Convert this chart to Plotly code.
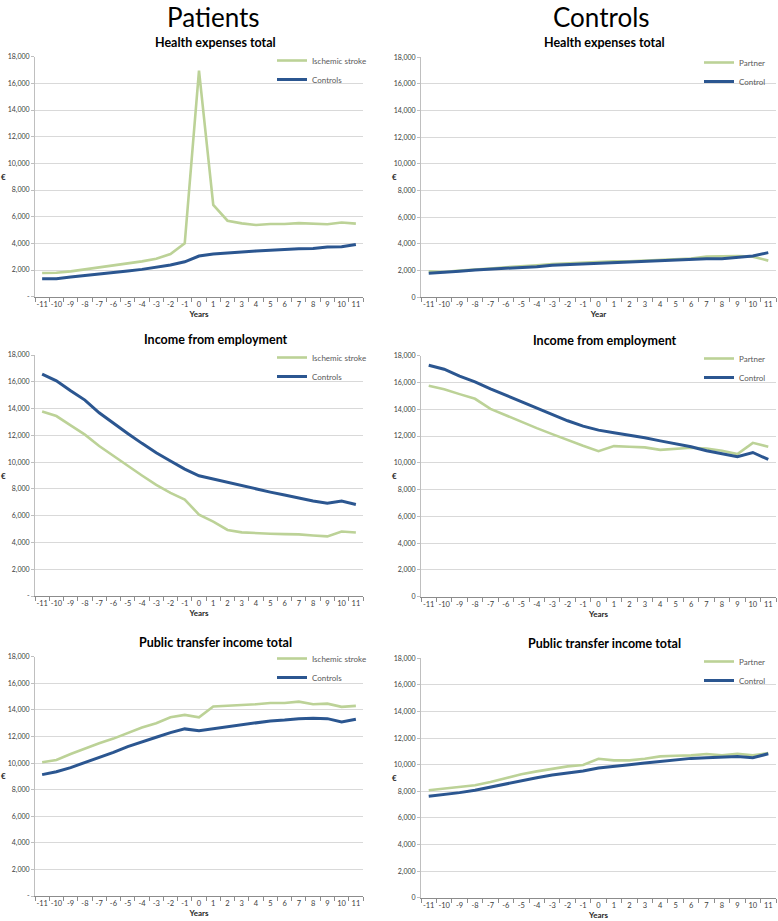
import plotly.graph_objects as go

years = [str(y) for y in range(-11, 12)]

# Patients panels
health_stroke = [1780, 1800, 1900, 2050, 2200, 2330, 2480, 2650, 2850, 3200, 4000, 16950,
                 6880, 5700, 5500, 5380, 5450, 5450, 5520, 5450, 5430, 5560, 5480]
health_ctrl_p = [1350, 1350, 1480, 1580, 1680, 1800, 1930, 2050, 2200, 2380, 2620, 3050,
                 3200, 3250, 3350, 3430, 3500, 3570, 3600, 3620, 3730, 3740, 3920]
income_stroke = [13780, 13440, 12750, 12050, 11200, 10450, 9750, 9000, 8300, 7700, 7200,
                 6080, 5550, 4930, 4750, 4680, 4650, 4620, 4600, 4520, 4450, 4820, 4740]
income_ctrl_p = [16570, 16070, 15330, 14630, 13680, 12890, 12140, 11400, 10700, 10080, 9480,
                 8980, 8730, 8480, 8280, 8010, 7760, 7540, 7290, 7090, 6920, 7090, 6840]
transfer_stroke = [10060, 10230, 10680, 11090, 11490, 11840, 12240, 12670, 12990, 13440, 13620,
                   13440, 14250, 14300, 14350, 14420, 14520, 14520, 14620, 14420, 14470, 14230, 14300]
transfer_ctrl_p = [9130, 9350, 9660, 10030, 10430, 10810, 11240, 11610, 11940, 12290, 12570,
                   12440, 12590, 12740, 12870, 13040, 13170, 13240, 13340, 13370, 13340, 13090, 13290]

# Controls panels
health_partner = [1950, 1900, 2000, 2050, 2150, 2250, 2300, 2400, 2500, 2550, 2650, 2700,
                  2700, 2700, 2750, 2850, 2900, 2900, 3050, 3100, 3100, 3050, 2750]
health_control = [1800, 1850, 1950, 2050, 2100, 2150, 2250, 2300, 2400, 2450, 2500, 2550,
                  2600, 2700, 2700, 2750, 2800, 2850, 2900, 2900, 3000, 3100, 3350]
income_partner = [15750, 15500, 15130, 14780, 14030, 13540, 13060, 12590, 12140, 11690, 11270,
                  10870, 11250, 11200, 11150, 10970, 11020, 11120, 11070, 10900, 10650, 11490, 11200]
income_control = [17290, 16990, 16470, 16050, 15530, 15050, 14530, 14080, 13590, 13140, 12740,
                  12440, 12240, 12070, 11870, 11640, 11400, 11200, 10900, 10700, 10450, 10770, 10250]
transfer_partner = [8075, 8200, 8375, 8450, 8700, 9000, 9275, 9500, 9700, 9875, 9975, 10450,
                    10325, 10325, 10450, 10625, 10675, 10700, 10800, 10700, 10825, 10700, 10875]
transfer_control = [7625, 7750, 7900, 8075, 8325, 8575, 8825, 9025, 9225, 9375, 9525, 9750,
                    9900, 10000, 10125, 10250, 10375, 10475, 10525, 10600, 10625, 10525, 10825]

ytick_vals = list(range(0, 18001, 2000))
ytick_left = ["-"] + [f"{v:,}" for v in ytick_vals[1:]]
ytick_right = [f"{v:,}" for v in ytick_vals]

GREEN = "#bcd297"
BLUE = "#2b5690"
FONT = "Lato, 'Open Sans', sans-serif"

W, H = 778, 921

def px_x(p):
    return p / W

def px_y(p):
    return 1 - p / H

panels = [
    dict(x=(35, 363), y=(56.7, 296.7), s1=("Ischemic stroke", health_stroke), s2=("Controls", health_ctrl_p),
         title="Health expenses total", tcx=215, tcy=42, xt="Years", left=True, leg=(272, 46)),
    dict(x=(421, 776), y=(57.3, 297.3), s1=("Partner", health_partner), s2=("Control", health_control),
         title="Health expenses total", tcx=604, tcy=42, xt="Year", left=False, leg=(699, 48)),
    dict(x=(35, 363), y=(355, 596), s1=("Ischemic stroke", income_stroke), s2=("Controls", income_ctrl_p),
         title="Income from employment", tcx=216, tcy=340, xt="Years", left=True, leg=(272, 343)),
    dict(x=(421, 776), y=(355.7, 596.7), s1=("Partner", income_partner), s2=("Control", income_control),
         title="Income from employment", tcx=605, tcy=341, xt="Years", left=False, leg=(699, 344)),
    dict(x=(35, 363), y=(656.7, 896), s1=("Ischemic stroke", transfer_stroke), s2=("Controls", transfer_ctrl_p),
         title="Public transfer income total", tcx=215, tcy=642, xt="Years", left=True, leg=(272, 644)),
    dict(x=(421, 776), y=(658.3, 897.7), s1=("Partner", transfer_partner), s2=("Control", transfer_control),
         title="Public transfer income total", tcx=604, tcy=643, xt="Years", left=False, leg=(699, 647)),
]

fig = go.Figure()
annotations = []
layout_updates = {}

for i, p in enumerate(panels):
    n = i + 1
    xa = "x" if n == 1 else f"x{n}"
    ya = "y" if n == 1 else f"y{n}"
    xkey = "xaxis" if n == 1 else f"xaxis{n}"
    ykey = "yaxis" if n == 1 else f"yaxis{n}"
    legkey = "legend" if n == 1 else f"legend{n}"

    fig.add_trace(go.Scatter(x=years, y=p["s1"][1], name=p["s1"][0], mode="lines",
                             line=dict(color=GREEN, width=2.6), xaxis=xa, yaxis=ya,
                             legend=legkey))
    fig.add_trace(go.Scatter(x=years, y=p["s2"][1], name=p["s2"][0], mode="lines",
                             line=dict(color=BLUE, width=3), xaxis=xa, yaxis=ya,
                             legend=legkey))

    layout_updates[xkey] = dict(
        domain=[px_x(p["x"][0]), px_x(p["x"][1])],
        anchor=ya, type="category", categoryorder="array", categoryarray=years,
        range=[-0.5, len(years) - 0.5],
        tickson="boundaries", ticks="outside", ticklen=4, tickcolor="#8c8c8c",
        showline=True, linecolor="#8c8c8c", linewidth=1, showgrid=False,
        tickangle=0, automargin=False,
        tickfont=dict(size=7.5, color="#404040", family=FONT),
        title=dict(text="<b>" + p["xt"] + "</b>", font=dict(size=8, color="#262626", family=FONT),
                   standoff=2),
        fixedrange=True,
    )
    layout_updates[ykey] = dict(
        domain=[px_y(p["y"][1]), px_y(p["y"][0])],
        anchor=xa, range=[0, 18000], tickvals=ytick_vals,
        ticktext=ytick_left if p["left"] else ytick_right,
        showgrid=True, gridcolor="#d9d9d9", gridwidth=1,
        showline=True, linecolor="#bfbfbf", linewidth=1,
        ticks="outside", ticklen=3, tickcolor="#bfbfbf",
        tickfont=dict(size=7, color="#404040", family=FONT),
        zeroline=False, fixedrange=True, automargin=False,
    )
    layout_updates[legkey] = dict(
        x=px_x(p["leg"][0]), y=px_y(p["leg"][1]), xanchor="left", yanchor="top",
        bgcolor="rgba(0,0,0,0)", font=dict(size=8, color="#595959", family=FONT),
        itemwidth=30, tracegroupgap=0,
    )

    annotations.append(dict(text="<b>" + p["title"] + "</b>", x=px_x(p["tcx"]), y=px_y(p["tcy"]),
                            xref="paper", yref="paper", showarrow=False, xanchor="center",
                            yanchor="middle", font=dict(size=12.5, color="#000000", family=FONT)))
    ymid = (p["y"][0] + p["y"][1]) / 2
    annotations.append(dict(text="<b>€</b>", x=px_x(4 if p["left"] else 394), y=px_y(ymid),
                            xref="paper", yref="paper", showarrow=False, xanchor="center",
                            yanchor="middle", font=dict(size=8, color="#262626", family=FONT)))

annotations.append(dict(text="Patients", x=px_x(213), y=1, xref="paper", yref="paper",
                        showarrow=False, xanchor="center", yanchor="top", borderpad=0,
                        font=dict(size=26, color="#000000", family=FONT)))
annotations.append(dict(text="Controls", x=px_x(601), y=1, xref="paper", yref="paper",
                        showarrow=False, xanchor="center", yanchor="top", borderpad=0,
                        font=dict(size=26, color="#000000", family=FONT)))

fig.update_layout(
    width=W, height=H,
    margin=dict(l=0, r=0, t=0, b=0),
    paper_bgcolor="white", plot_bgcolor="white",
    annotations=annotations,
    showlegend=True,
    **layout_updates,
)

fig.write_html("out.html", config={"displayModeBar": False},
               post_script="document.body.style.margin='0';document.body.style.overflow='hidden';")
